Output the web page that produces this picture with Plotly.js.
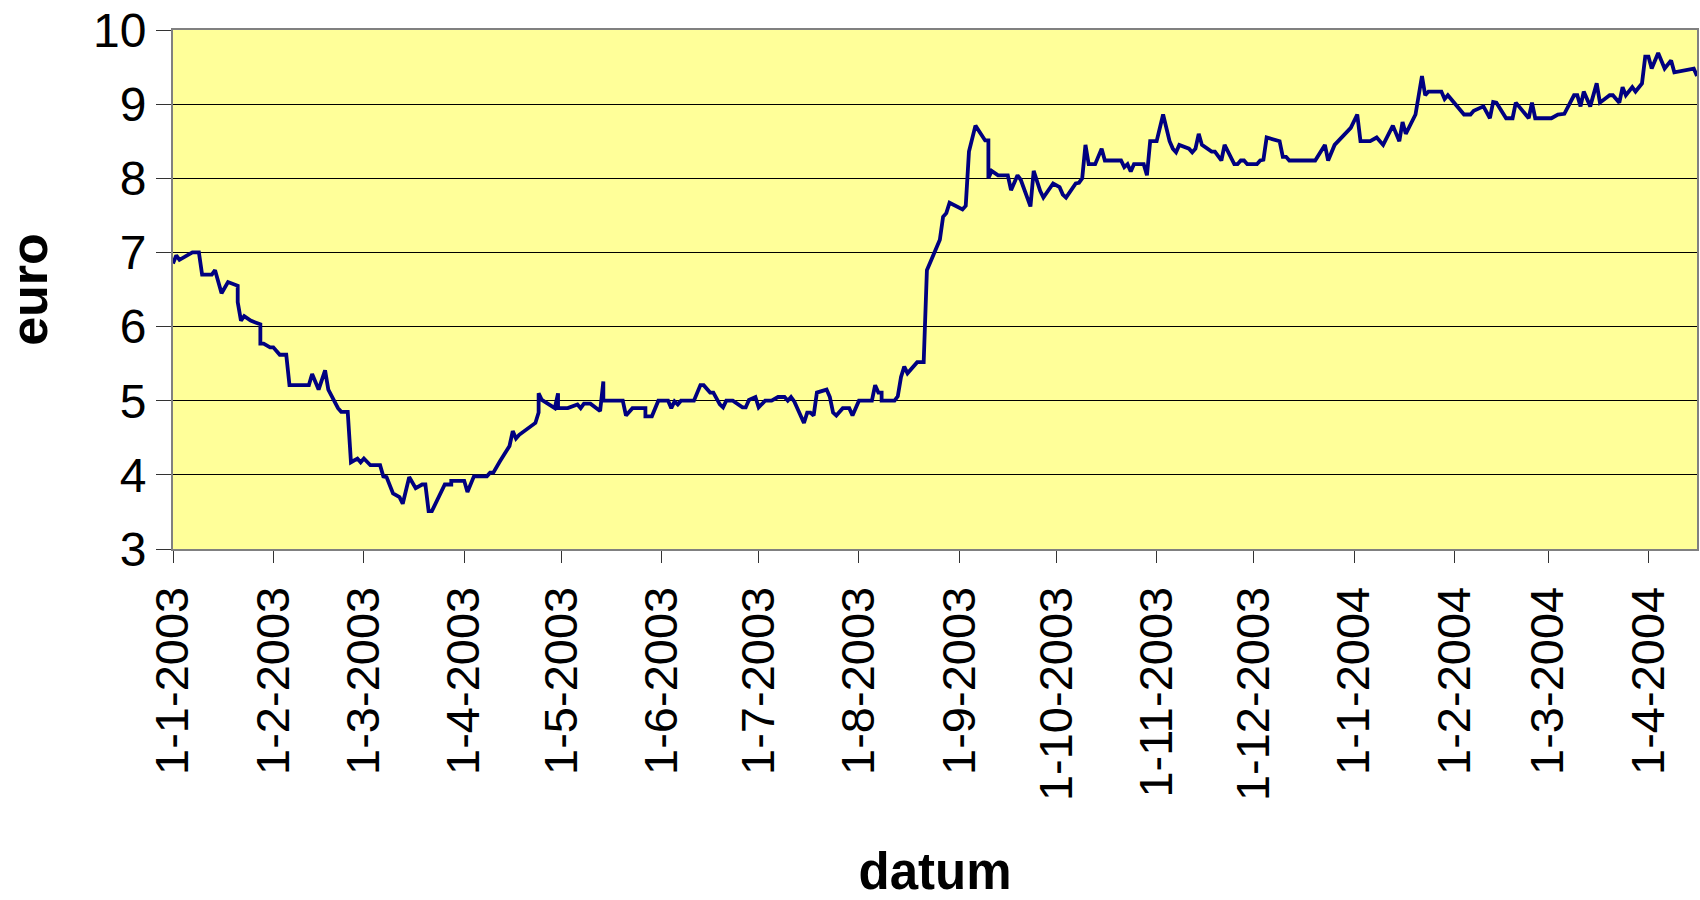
<!DOCTYPE html>
<html>
<head>
<meta charset="utf-8">
<script src="https://cdn.plot.ly/plotly-3.0.1.min.js"></script>
<style>
  html, body { margin: 0; padding: 0; background: #ffffff; }
  #chart { width: 1700px; height: 900px; }
</style>
</head>
<body>
<div id="chart"></div>
<script>
// Dates (d-m-yyyy on the axis) and price in euro
var dates = [
  '2003-01-01','2003-01-02','2003-01-03','2003-01-07','2003-01-09','2003-01-10','2003-01-13','2003-01-14','2003-01-16','2003-01-18','2003-01-21','2003-01-21','2003-01-22','2003-01-23','2003-01-25','2003-01-28','2003-01-28','2003-01-29','2003-01-31',
  '2003-02-01','2003-02-03','2003-02-05','2003-02-06','2003-02-12','2003-02-13','2003-02-15','2003-02-17','2003-02-18','2003-02-21','2003-02-22','2003-02-24','2003-02-25','2003-02-27','2003-02-28',
  '2003-03-01','2003-03-03','2003-03-06','2003-03-07','2003-03-08','2003-03-10','2003-03-12','2003-03-13','2003-03-15','2003-03-17','2003-03-19','2003-03-20','2003-03-21','2003-03-22','2003-03-26','2003-03-28','2003-03-28',
  '2003-04-01','2003-04-02','2003-04-04','2003-04-08','2003-04-09','2003-04-10','2003-04-11','2003-04-12','2003-04-15','2003-04-16','2003-04-17','2003-04-18','2003-04-23','2003-04-24','2003-04-24','2003-04-25','2003-04-29','2003-04-30','2003-04-30',
  '2003-05-03','2003-05-06','2003-05-07','2003-05-08','2003-05-10','2003-05-13','2003-05-14','2003-05-14','2003-05-20','2003-05-21','2003-05-23','2003-05-27','2003-05-27','2003-05-29','2003-05-31',
  '2003-06-03','2003-06-04','2003-06-05','2003-06-06','2003-06-07','2003-06-11','2003-06-13','2003-06-14','2003-06-16','2003-06-17','2003-06-19','2003-06-20','2003-06-21','2003-06-23','2003-06-26','2003-06-27','2003-06-28','2003-06-30',
  '2003-07-01','2003-07-03','2003-07-05','2003-07-07','2003-07-09','2003-07-10','2003-07-11','2003-07-12','2003-07-15','2003-07-16','2003-07-17','2003-07-18','2003-07-19','2003-07-22','2003-07-23','2003-07-24','2003-07-25','2003-07-27','2003-07-29','2003-07-30',
  '2003-08-01','2003-08-05','2003-08-06','2003-08-07','2003-08-08','2003-08-08','2003-08-12','2003-08-13','2003-08-14','2003-08-15','2003-08-16','2003-08-19','2003-08-21','2003-08-22','2003-08-26','2003-08-27','2003-08-28','2003-08-29',
  '2003-09-02','2003-09-03','2003-09-04','2003-09-06','2003-09-09','2003-09-10','2003-09-10','2003-09-11','2003-09-13','2003-09-16','2003-09-17','2003-09-19','2003-09-20','2003-09-23','2003-09-24','2003-09-26','2003-09-27','2003-09-30',
  '2003-10-02','2003-10-03','2003-10-04','2003-10-07','2003-10-08','2003-10-09','2003-10-10','2003-10-11','2003-10-13','2003-10-15','2003-10-16','2003-10-21','2003-10-22','2003-10-23','2003-10-24','2003-10-25','2003-10-28','2003-10-29','2003-10-30',
  '2003-11-01','2003-11-03','2003-11-05','2003-11-06','2003-11-07','2003-11-08','2003-11-11','2003-11-12','2003-11-13','2003-11-14','2003-11-15','2003-11-18','2003-11-19','2003-11-21','2003-11-22','2003-11-25','2003-11-26','2003-11-27','2003-11-28','2003-11-29',
  '2003-12-02','2003-12-03','2003-12-04','2003-12-05','2003-12-09','2003-12-10','2003-12-11','2003-12-12','2003-12-20','2003-12-23','2003-12-24','2003-12-26','2003-12-31',
  '2004-01-02','2004-01-03','2004-01-06','2004-01-08','2004-01-10','2004-01-13','2004-01-15','2004-01-16','2004-01-17','2004-01-20','2004-01-22','2004-01-23','2004-01-24','2004-01-28','2004-01-29','2004-01-30',
  '2004-02-04','2004-02-06','2004-02-07','2004-02-10','2004-02-12','2004-02-13','2004-02-14','2004-02-17','2004-02-19','2004-02-20','2004-02-24','2004-02-25','2004-02-26',
  '2004-03-02','2004-03-04','2004-03-06','2004-03-09','2004-03-10','2004-03-11','2004-03-12','2004-03-14','2004-03-16','2004-03-17','2004-03-20','2004-03-21','2004-03-23','2004-03-24','2004-03-25','2004-03-27','2004-03-28','2004-03-30','2004-03-31',
  '2004-04-01','2004-04-02','2004-04-04','2004-04-06','2004-04-08','2004-04-09','2004-04-15','2004-04-16'
];
var euro = [
  6.85,6.96,6.90,7.00,7.00,6.70,6.70,6.76,6.45,6.60,6.55,6.33,6.08,6.14,6.08,6.03,5.77,5.77,5.72,
  5.72,5.62,5.62,5.21,5.21,5.36,5.15,5.41,5.15,4.90,4.85,4.85,4.17,4.22,4.17,
  4.22,4.13,4.13,3.98,3.97,3.75,3.70,3.61,3.97,3.82,3.87,3.87,3.51,3.51,3.87,3.87,3.92,
  3.92,3.77,3.98,3.98,4.03,4.03,4.11,4.18,4.39,4.59,4.49,4.54,4.70,4.84,5.10,5.01,4.90,5.10,4.90,
  4.90,4.95,4.90,4.96,4.96,4.86,5.26,5.00,5.00,4.80,4.90,4.90,4.79,4.79,5.00,
  5.00,4.90,4.99,4.95,5.00,5.00,5.21,5.21,5.11,5.11,4.95,4.91,5.00,5.00,4.91,4.91,5.01,5.05,
  4.91,5.00,5.00,5.05,5.05,5.00,5.05,4.99,4.70,4.84,4.84,4.80,5.11,5.15,5.05,4.84,4.80,4.90,4.90,4.80,
  5.00,5.00,5.21,5.11,5.11,5.00,5.00,5.06,5.32,5.46,5.37,5.52,5.52,6.76,7.17,7.48,7.53,7.67,
  7.58,7.63,8.36,8.71,8.51,8.51,8.00,8.10,8.04,8.04,7.84,8.04,7.98,7.62,8.10,7.83,7.74,7.93,
  7.88,7.78,7.74,7.93,7.94,8.00,8.45,8.19,8.19,8.40,8.24,8.24,8.15,8.19,8.09,8.19,8.19,8.04,8.50,
  8.50,8.86,8.50,8.40,8.35,8.45,8.40,8.35,8.40,8.60,8.45,8.36,8.36,8.24,8.45,8.19,8.19,8.24,8.24,8.19,
  8.19,8.24,8.25,8.55,8.50,8.29,8.29,8.24,8.24,8.45,8.24,8.45,8.68,
  8.86,8.50,8.50,8.55,8.45,8.71,8.50,8.76,8.60,8.86,9.38,9.12,9.17,9.17,9.07,9.12,
  8.86,8.86,8.91,8.97,8.81,9.03,9.02,8.81,8.81,9.02,8.81,9.02,8.81,
  8.81,8.86,8.87,9.12,9.12,8.97,9.17,8.97,9.28,9.02,9.12,9.12,9.02,9.23,9.12,9.23,9.17,9.28,9.64,
  9.64,9.48,9.69,9.48,9.59,9.43,9.48,9.38
];
var xRange = ['2003-01-01', '2004-04-16'];
var yRange = [3, 10];
var xTitle = 'datum';
var yTitle = 'euro';

var FONT = 'Liberation Sans, Arial, Helvetica, sans-serif';

var trace = {
  x: dates, y: euro,
  type: 'scatter', mode: 'lines',
  line: { color: '#000080', width: 3.8 },
  hoverinfo: 'skip'
};

var layout = {
  width: 1700, height: 900,
  paper_bgcolor: '#ffffff',
  plot_bgcolor: '#FFFF99',
  margin: { l: 173, r: 3, t: 30, b: 351, pad: 0 },
  showlegend: false,
  font: { family: FONT, color: '#000000', size: 46 },
  xaxis: {
    type: 'date',
    range: xRange,
    tick0: '2003-01-01',
    dtick: 'M1',
    tickformat: '%-d-%-m-%Y',
    tickangle: -90,
    ticks: 'outside', ticklen: 12, tickwidth: 1, tickcolor: '#333333',
    ticklabelstandoff: 5,
    tickfont: { family: FONT, size: 47, color: '#000000' },
    showgrid: false, zeroline: false,
    showline: true, linecolor: '#808080', linewidth: 2, mirror: true,
    automargin: false,
    title: { text: '<b>' + xTitle + '</b>', font: { family: FONT, size: 51, color: '#000000' }, standoff: 82 }
  },
  yaxis: {
    range: yRange,
    tick0: 0, dtick: 1,
    ticks: 'outside', ticklen: 15, tickwidth: 1, tickcolor: '#333333',
    tickfont: { family: FONT, size: 48, color: '#000000' },
    showgrid: true, gridcolor: '#000000', gridwidth: 1,
    zeroline: false,
    showline: true, linecolor: '#808080', linewidth: 2, mirror: true,
    automargin: false,
    title: { text: '<b>' + yTitle + '</b>', font: { family: FONT, size: 52, color: '#000000' }, standoff: 32 }
  }
};

Plotly.newPlot('chart', [trace], layout, { staticPlot: true, displayModeBar: false, responsive: false });
</script>
</body>
</html>
